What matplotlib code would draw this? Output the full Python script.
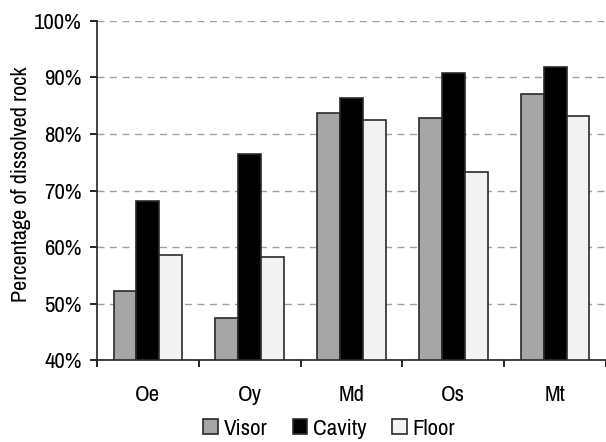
import matplotlib.pyplot as plt
import numpy as np
from matplotlib.ticker import FixedLocator, PercentFormatter

plt.rcParams["font.family"] = ["Archivo Narrow", "Liberation Sans", "DejaVu Sans"]

CATEGORIES = ["Oe", "Oy", "Md", "Os", "Mt"]
VISOR = [52.2, 47.5, 83.8, 82.8, 87.1]
CAVITY = [68.2, 76.5, 86.4, 90.8, 91.9]
FLOOR = [58.5, 58.3, 82.5, 73.2, 83.2]


def main():
    fig = plt.figure(figsize=(6.06, 4.42), dpi=100)
    ax = fig.add_axes([0.16, 0.1855, 0.84, 0.767])

    x = np.arange(len(CATEGORIES))
    width = 0.225
    bottom = 40
    series = [
        ("Visor", VISOR, "#a6a6a6"),
        ("Cavity", CAVITY, "#000000"),
        ("Floor", FLOOR, "#f2f2f2"),
    ]
    for i, (label, vals, color) in enumerate(series):
        heights = [v - bottom for v in vals]
        ax.bar(x + (i - 1) * width, heights, width, bottom=bottom, color=color,
               edgecolor="#2a2a2a", linewidth=1.2, label=label, zorder=3)

    ax.set_ylim(40, 100)
    ax.set_xlim(-0.5, len(CATEGORIES) - 0.5)
    ax.set_yticks(np.arange(40, 101, 10))
    ax.yaxis.set_major_formatter(PercentFormatter(decimals=0))
    ax.grid(True, axis="y", linestyle=(0, (5, 4)), color="#a0a0a0", linewidth=1.0, zorder=0)

    ax.set_xticks(x)
    ax.set_xticklabels(CATEGORIES)
    ax.tick_params(axis="x", which="major", length=0, pad=18, labelsize=16.5)
    ax.xaxis.set_minor_locator(FixedLocator(np.arange(-0.5, len(CATEGORIES), 1)))
    ax.tick_params(axis="x", which="minor", length=5, width=1.2, direction="out")
    ax.tick_params(axis="y", length=5, width=1.2, direction="out", labelsize=16.5, pad=6)

    for side in ["top", "right"]:
        ax.spines[side].set_visible(False)
    for side in ["left", "bottom"]:
        ax.spines[side].set_linewidth(1.2)
        ax.spines[side].set_color("#222222")

    ax.set_ylabel("Percentage of dissolved rock", fontsize=16)
    ax.yaxis.set_label_coords(-0.13, 0.52)

    fig.legend(loc="center", ncol=3, frameon=False, fontsize=16.5,
               bbox_to_anchor=(0.543, 0.03), handlelength=0.65, handleheight=0.65,
               handletextpad=0.25, columnspacing=1.1)

    fig.savefig("out.png", dpi=100)


if __name__ == "__main__":
    main()
